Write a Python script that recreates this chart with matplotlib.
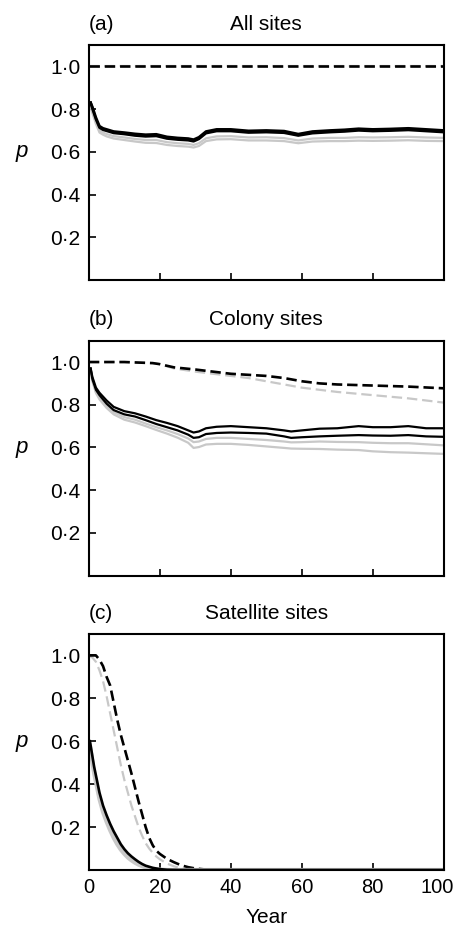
import matplotlib
matplotlib.use("Agg")
import matplotlib.pyplot as plt
import matplotlib.transforms as mtransforms

plt.rcParams['font.family'] = ['Liberation Sans', 'DejaVu Sans']
plt.rcParams['lines.scale_dashes'] = False

# ---- data ----
# (a) All sites
yr_a = [0.5, 1, 2, 3, 4, 5, 7, 10, 13, 16, 19, 22, 25, 28, 29.5, 31, 33, 36, 40, 45,
        50, 55, 59, 63, 68, 72, 76, 80, 85, 90, 95, 100]
a_black1 = [0.83, 0.81, 0.76, 0.72, 0.71, 0.705, 0.695, 0.69, 0.684, 0.68, 0.682, 0.67, 0.665, 0.662,
            0.657, 0.668, 0.695, 0.705, 0.705, 0.698, 0.70, 0.697, 0.683, 0.695, 0.70, 0.703, 0.708,
            0.705, 0.707, 0.71, 0.705, 0.70]
a_black2 = [0.83, 0.802, 0.752, 0.713, 0.703, 0.698, 0.688, 0.683, 0.676, 0.672, 0.674, 0.662, 0.657, 0.654,
            0.649, 0.66, 0.687, 0.697, 0.697, 0.69, 0.692, 0.689, 0.676, 0.687, 0.692, 0.695, 0.70,
            0.697, 0.699, 0.702, 0.697, 0.692]
a_grey1 = [0.82, 0.79, 0.74, 0.70, 0.69, 0.683, 0.673, 0.667, 0.66, 0.655, 0.655, 0.645, 0.64, 0.637,
           0.632, 0.64, 0.663, 0.672, 0.673, 0.667, 0.668, 0.664, 0.653, 0.662, 0.665, 0.665, 0.668,
           0.667, 0.668, 0.67, 0.667, 0.665]
a_grey2 = [0.81, 0.78, 0.73, 0.69, 0.68, 0.672, 0.662, 0.655, 0.648, 0.642, 0.641, 0.632, 0.627, 0.624,
           0.62, 0.627, 0.65, 0.658, 0.659, 0.653, 0.653, 0.65, 0.64, 0.648, 0.65, 0.65, 0.652,
           0.651, 0.652, 0.654, 0.651, 0.65]
yr_a_dash = [0, 100]
a_dash_black = [1.0, 1.0]
a_dash_grey = [1.0, 1.0]

# (b) Colony sites
yr_b = [0.5, 1, 2, 3, 5, 7, 10, 13, 16, 19, 22, 25, 28, 29.5, 31, 33, 36, 40, 45, 50,
        55, 57, 60, 65, 70, 76, 80, 85, 90, 95, 100]
b_black1 = [0.97, 0.93, 0.88, 0.856, 0.82, 0.79, 0.77, 0.76, 0.745, 0.728, 0.715, 0.70, 0.68, 0.67,
            0.675, 0.69, 0.697, 0.70, 0.695, 0.69, 0.68, 0.675, 0.68, 0.688, 0.69, 0.70, 0.695,
            0.695, 0.70, 0.69, 0.69]
b_black2 = [0.97, 0.92, 0.87, 0.845, 0.805, 0.775, 0.755, 0.745, 0.728, 0.71, 0.695, 0.68, 0.66, 0.645,
            0.648, 0.663, 0.668, 0.67, 0.668, 0.665, 0.652, 0.645, 0.648, 0.652, 0.655, 0.658, 0.656,
            0.655, 0.658, 0.652, 0.65]
b_grey1 = [0.96, 0.915, 0.86, 0.835, 0.795, 0.765, 0.742, 0.73, 0.712, 0.695, 0.68, 0.663, 0.642, 0.625,
           0.628, 0.64, 0.645, 0.645, 0.64, 0.635, 0.628, 0.624, 0.625, 0.628, 0.626, 0.625, 0.622,
           0.62, 0.62, 0.615, 0.61]
b_grey2 = [0.955, 0.91, 0.855, 0.825, 0.785, 0.755, 0.73, 0.717, 0.70, 0.682, 0.665, 0.646, 0.622, 0.598,
           0.602, 0.614, 0.617, 0.617, 0.612, 0.605, 0.598, 0.595, 0.594, 0.593, 0.59, 0.588, 0.582,
           0.578, 0.576, 0.573, 0.57]
yr_b_dash = [0, 10, 18, 20, 24, 30, 35, 40, 45, 50, 55, 60, 65, 70, 80, 90, 100]
b_dash_black = [1.0, 1.0, 0.995, 0.99, 0.975, 0.965, 0.955, 0.945, 0.94, 0.935, 0.925, 0.91, 0.90,
                0.895, 0.89, 0.885, 0.877]
b_dash_grey = [1.0, 1.0, 0.995, 0.99, 0.97, 0.955, 0.945, 0.935, 0.925, 0.91, 0.895, 0.88, 0.87,
               0.86, 0.845, 0.83, 0.81]

# (c) Satellite sites
yr_c_dash = [0, 1, 2, 3, 4, 5, 6, 7, 8, 9, 10, 11, 12, 13, 14, 15, 16, 17, 18, 19, 20,
             22, 24, 26, 28, 30, 33, 36, 100]
c_dash_black = [1.0, 1.0, 1.0, 0.98, 0.95, 0.90, 0.86, 0.78, 0.70, 0.63, 0.57, 0.51, 0.45, 0.385,
                0.32, 0.26, 0.20, 0.15, 0.115, 0.09, 0.075, 0.052, 0.036, 0.022, 0.013, 0.007,
                0.002, 0.0, 0.0]
c_dash_grey = [1.0, 0.99, 0.97, 0.93, 0.88, 0.81, 0.73, 0.65, 0.57, 0.49, 0.42, 0.36, 0.30, 0.25,
               0.20, 0.16, 0.125, 0.10, 0.08, 0.063, 0.05, 0.03, 0.017, 0.008, 0.003, 0.0,
               0.0, 0.0, 0.0]
yr_c = [0.3, 1, 1.5, 2, 3, 4, 5, 6, 7, 8, 9, 10, 11, 12, 13, 14, 15, 16, 18, 20, 22, 25, 100]
c_black = [0.60, 0.53, 0.48, 0.44, 0.36, 0.30, 0.255, 0.215, 0.18, 0.15, 0.12, 0.097, 0.078, 0.063,
           0.05, 0.038, 0.028, 0.02, 0.01, 0.004, 0.001, 0.0, 0.0]
c_grey = [0.58, 0.50, 0.45, 0.41, 0.33, 0.27, 0.225, 0.185, 0.15, 0.12, 0.095, 0.075, 0.058, 0.045,
          0.034, 0.025, 0.018, 0.012, 0.005, 0.002, 0.0, 0.0, 0.0]

ytick_vals = [0.2, 0.4, 0.6, 0.8, 1.0]
ytick_labels = ['0·2', '0·4', '0·6', '0·8', '1·0']
xtick_vals = [0, 20, 40, 60, 80, 100]
xtick_labels = ['0', '20', '40', '60', '80', '100']

GREY = '#c8c8c8'
DASH = (7.5, 3.5)

fig = plt.figure(figsize=(4.58, 9.27), dpi=100)
boxes = [[0.194, 0.698, 0.775, 0.2535],
         [0.194, 0.379, 0.775, 0.2535],
         [0.194, 0.0615, 0.775, 0.2546]]
axes = [fig.add_axes(b) for b in boxes]
ax_a, ax_b, ax_c = axes

# panel a
ax_a.plot(yr_a_dash, a_dash_grey, color=GREY, lw=1.6, dashes=DASH)
ax_a.plot(yr_a_dash, a_dash_black, color='black', lw=1.9, dashes=DASH)
ax_a.plot(yr_a, a_grey2, color=GREY, lw=1.6)
ax_a.plot(yr_a, a_grey1, color=GREY, lw=1.6)
ax_a.plot(yr_a, a_black2, color='black', lw=1.9)
ax_a.plot(yr_a, a_black1, color='black', lw=1.9)

# panel b
ax_b.plot(yr_b_dash, b_dash_grey, color=GREY, lw=1.6, dashes=DASH)
ax_b.plot(yr_b_dash, b_dash_black, color='black', lw=1.9, dashes=DASH)
ax_b.plot(yr_b, b_grey2, color=GREY, lw=1.6)
ax_b.plot(yr_b, b_grey1, color=GREY, lw=1.6)
ax_b.plot(yr_b, b_black2, color='black', lw=1.6)
ax_b.plot(yr_b, b_black1, color='black', lw=1.6)

# panel c
ax_c.plot(yr_c_dash, c_dash_grey, color=GREY, lw=1.6, dashes=DASH)
ax_c.plot(yr_c_dash, c_dash_black, color='black', lw=1.9, dashes=DASH)
ax_c.plot(yr_c, c_grey, color=GREY, lw=3)
ax_c.plot(yr_c, c_black, color='black', lw=1.9)

titles = ['All sites', 'Colony sites', 'Satellite sites']
letters = ['(a)', '(b)', '(c)']
for ax, t, l in zip(axes, titles, letters):
    ax.set_xlim(0, 100)
    ax.set_ylim(0, 1.1)
    ax.set_yticks(ytick_vals)
    ax.set_yticklabels(ytick_labels)
    ax.set_xticks(xtick_vals)
    ax.tick_params(direction='in', length=5, width=1.2, labelsize=15, pad=6,
                   top=False, right=False)
    for s in ax.spines.values():
        s.set_linewidth(1.5)
    ax.set_title(t, fontsize=15, pad=11)
    ax.set_title(l, fontsize=15, loc='left', pad=11)
    ax.set_ylabel('p', fontsize=16, style='italic', rotation=0, va='center')
    ax.yaxis.set_label_coords(-0.19, 0.545)

ax_a.set_xticklabels([])
ax_b.set_xticklabels([])
ax_c.set_xticklabels(xtick_labels)
ax_c.tick_params(axis='x', pad=6, labelsize=14.5)
# nudge the "100" label a little left so it stays inside the figure
last = ax_c.get_xticklabels()[-1]
last.set_transform(last.get_transform() + mtransforms.ScaledTranslation(-5 / 72, 0, fig.dpi_scale_trans))
ax_c.set_xlabel('Year', fontsize=15, labelpad=8)

fig.savefig('out.png', dpi=100)
